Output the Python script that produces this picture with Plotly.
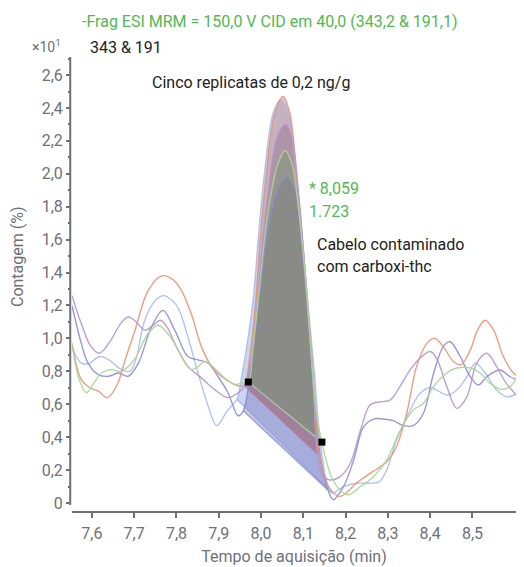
import plotly.graph_objects as go

# ---------------- data ----------------
t_orange = [7.553, 7.575, 7.595, 7.615, 7.637, 7.660, 7.680, 7.702, 7.733, 7.765, 7.790, 7.810, 7.835,
            7.859, 7.883, 7.906, 7.930, 7.950, 7.962, 7.972, 7.985, 7.997, 8.011, 8.033, 8.052, 8.068,
            8.085, 8.099, 8.111, 8.122, 8.130, 8.138, 8.150, 8.165, 8.187, 8.205, 8.225, 8.258, 8.297,
            8.320, 8.345, 8.368, 8.392, 8.411, 8.431, 8.455, 8.473, 8.495, 8.512, 8.530, 8.550, 8.573,
            8.597, 8.608]
v_orange = [0.97, 0.75, 0.70, 0.68, 0.64, 0.72, 0.88, 1.05, 1.29, 1.38, 1.36, 1.30, 1.15,
            0.95, 0.83, 0.77, 0.73, 0.71, 0.72, 0.86, 1.15, 1.56, 1.96, 2.37, 2.47, 2.37,
            1.96, 1.56, 1.15, 0.80, 0.50, 0.30, 0.16, 0.08, 0.04, 0.07, 0.12, 0.18, 0.25,
            0.34, 0.55, 0.83, 0.97, 1.00, 0.95, 0.86, 0.84, 0.93, 1.05, 1.11, 1.05, 0.89,
            0.79, 0.77]

t_blue = [7.553, 7.575, 7.595, 7.618, 7.640, 7.670, 7.690, 7.705, 7.725, 7.750, 7.770, 7.790, 7.805,
          7.827, 7.851, 7.875, 7.895, 7.920, 7.943, 7.955, 7.968, 7.982, 7.994, 8.008, 8.030, 8.047,
          8.064, 8.083, 8.098, 8.112, 8.126, 8.135, 8.145, 8.158, 8.168, 8.195, 8.227, 8.258, 8.280,
          8.297, 8.320, 8.353, 8.376, 8.400, 8.420, 8.440, 8.463, 8.487, 8.507, 8.530, 8.557, 8.581,
          8.608]
v_blue = [0.95, 0.85, 0.85, 0.89, 0.87, 0.81, 0.80, 0.88, 1.11, 1.23, 1.26, 1.23, 1.18,
          1.01, 0.79, 0.59, 0.47, 0.56, 0.63, 0.78, 0.98, 1.25, 1.62, 2.00, 2.38, 2.45,
          2.38, 2.00, 1.60, 1.18, 0.80, 0.50, 0.28, 0.10, 0.06, 0.10, 0.12, 0.12, 0.13,
          0.20, 0.38, 0.565, 0.666, 0.70, 0.68, 0.655, 0.686, 0.767, 0.85, 0.79, 0.686, 0.646,
          0.666]

t_mauve = [7.553, 7.575, 7.598, 7.618, 7.645, 7.668, 7.686, 7.705, 7.725, 7.745, 7.762, 7.780, 7.796,
           7.827, 7.859, 7.890, 7.922, 7.946, 7.962, 7.974, 7.988, 8.000, 8.015, 8.038, 8.058, 8.073,
           8.090, 8.103, 8.115, 8.124, 8.133, 8.145, 8.164, 8.187, 8.211, 8.235, 8.258, 8.282, 8.305,
           8.329, 8.353, 8.376, 8.400, 8.415, 8.439, 8.463, 8.487, 8.510, 8.534, 8.557, 8.580, 8.608]
v_mauve = [1.26, 1.09, 0.95, 0.91, 0.99, 1.09, 1.13, 1.10, 1.05, 1.08, 1.11, 1.06, 0.97,
           0.83, 0.76, 0.69, 0.64, 0.67, 0.71, 0.84, 1.12, 1.48, 1.85, 2.22, 2.30, 2.22,
           1.85, 1.45, 1.05, 0.70, 0.30, 0.17, 0.14, 0.16, 0.24, 0.44, 0.595, 0.615, 0.625,
           0.71, 0.81, 0.88, 0.92, 0.88, 0.71, 0.575, 0.646, 0.85, 0.91, 0.83, 0.727, 0.646]

t_violet = [7.553, 7.575, 7.591, 7.615, 7.640, 7.662, 7.686, 7.710, 7.741, 7.768, 7.796, 7.827, 7.851,
            7.875, 7.898, 7.922, 7.946, 7.958, 7.970, 7.984, 7.998, 8.014, 8.040, 8.062, 8.080, 8.095,
            8.108, 8.120, 8.130, 8.142, 8.158, 8.171, 8.195, 8.219, 8.242, 8.266, 8.289, 8.313, 8.337,
            8.360, 8.384, 8.408, 8.431, 8.447, 8.471, 8.495, 8.514, 8.534, 8.565, 8.589, 8.608]
v_violet = [1.20, 0.97, 0.85, 0.78, 0.77, 0.79, 0.77, 0.85, 1.07, 1.17, 1.05, 0.89, 0.87,
            0.85, 0.77, 0.67, 0.53, 0.56, 0.70, 0.98, 1.30, 1.62, 1.91, 1.98, 1.90, 1.60,
            1.25, 0.85, 0.50, 0.25, 0.08, 0.02, 0.10, 0.26, 0.46, 0.51, 0.51, 0.50, 0.47,
            0.47, 0.545, 0.787, 0.95, 0.98, 0.89, 0.767, 0.717, 0.767, 0.808, 0.767, 0.747]

t_green = [7.553, 7.570, 7.587, 7.605, 7.623, 7.645, 7.670, 7.700, 7.733, 7.757, 7.788, 7.812, 7.835,
           7.852, 7.867, 7.890, 7.914, 7.938, 7.955, 7.970, 7.980, 7.990, 8.002, 8.016, 8.040, 8.057,
           8.073, 8.090, 8.104, 8.116, 8.126, 8.135, 8.144, 8.155, 8.168, 8.187, 8.207, 8.235, 8.266,
           8.297, 8.329, 8.360, 8.384, 8.408, 8.439, 8.463, 8.495, 8.518, 8.542, 8.569, 8.589, 8.608]
v_green = [0.97, 0.75, 0.67, 0.73, 0.79, 0.81, 0.80, 0.87, 1.03, 1.08, 1.00, 0.89, 0.81,
           0.83, 0.86, 0.82, 0.76, 0.72, 0.73, 0.735, 0.92, 1.15, 1.45, 1.76, 2.06, 2.14,
           2.06, 1.76, 1.40, 1.00, 0.66, 0.48, 0.37, 0.25, 0.15, 0.08, 0.05, 0.10, 0.16,
           0.26, 0.44, 0.565, 0.605, 0.707, 0.79, 0.82, 0.82, 0.79, 0.727, 0.69, 0.707, 0.78]

series_names = ["orange", "blue", "mauve", "violet", "green"]
series_t = [t_orange, t_blue, t_mauve, t_violet, t_green]
series_v = [v_orange, v_blue, v_mauve, v_violet, v_green]
integ_start = [7.962, 7.943, 7.962, 7.958, 7.970]
integ_end = [8.138, 8.168, 8.133, 8.158, 8.144]

y_tickvals = [0, 0.2, 0.4, 0.6, 0.8, 1.0, 1.2, 1.4, 1.6, 1.8, 2.0, 2.2, 2.4, 2.6]
y_ticktext = ["0", "0,2", "0,4", "0,6", "0,8", "1,0", "1,2", "1,4", "1,6", "1,8", "2,0", "2,2", "2,4", "2,6"]
x_tickvals = [7.6, 7.7, 7.8, 7.9, 8.0, 8.1, 8.2, 8.3, 8.4, 8.5]
x_ticktext = ["7,6", "7,7", "7,8", "7,9", "8,0", "8,1", "8,2", "8,3", "8,4", "8,5"]

# ---------------- styles ----------------
line_colors = ["rgba(232,146,120,0.9)", "rgba(168,190,236,0.9)", "rgba(182,150,202,0.9)",
               "rgba(140,140,214,0.9)", "rgba(168,214,150,0.9)"]
fill_colors = ["rgba(180,105,90,0.33)", "rgba(100,128,205,0.33)", "rgba(135,85,120,0.33)",
               "rgba(88,92,178,0.33)", "rgba(98,158,88,0.33)"]
base_colors = ["rgba(200,120,110,0.6)", "rgba(140,160,220,0.6)", "rgba(170,110,150,0.6)",
               "rgba(120,120,200,0.6)", "rgba(175,195,165,0.9)"]
GRAY = "#6e7079"
FONT = "Roboto, 'Noto Sans', sans-serif"

L, R, T, B = 72, 8, 57, 56
W, H = 524, 567
PW, PH = W - L - R, H - T - B

fig = go.Figure()

# filled integration regions
draw_order = [1, 3, 0, 2, 4]
for i in draw_order:
    t, v = series_t[i], series_v[i]
    s, e = integ_start[i], integ_end[i]
    xs = [tt for tt, vv in zip(t, v) if s <= tt <= e]
    ys = [vv for tt, vv in zip(t, v) if s <= tt <= e]
    fig.add_trace(go.Scatter(x=xs, y=ys, mode="lines", fill="toself", fillcolor=fill_colors[i],
                             line=dict(width=0, shape="spline"), hoverinfo="skip", showlegend=False))

# baselines
for i in draw_order:
    t, v = series_t[i], series_v[i]
    s, e = integ_start[i], integ_end[i]
    fig.add_trace(go.Scatter(x=[s, e], y=[v[t.index(s)], v[t.index(e)]], mode="lines",
                             line=dict(width=1.5, color=base_colors[i]), hoverinfo="skip",
                             showlegend=False))

# chromatogram lines
for i in draw_order:
    fig.add_trace(go.Scatter(x=series_t[i], y=series_v[i], mode="lines", name=series_names[i],
                             line=dict(width=1.4, color=line_colors[i], shape="spline"),
                             showlegend=False))

# integration markers of the highlighted trace
gi = 4
fig.add_trace(go.Scatter(
    x=[integ_start[gi], integ_end[gi]],
    y=[series_v[gi][series_t[gi].index(integ_start[gi])], series_v[gi][series_t[gi].index(integ_end[gi])]],
    mode="markers", marker=dict(symbol="square", size=7, color="black"), showlegend=False))

fig.update_layout(
    width=W, height=H,
    margin=dict(l=L, r=R, t=T, b=B, autoexpand=False),
    paper_bgcolor="white", plot_bgcolor="white",
    font=dict(family=FONT, size=16, color=GRAY),
    xaxis=dict(range=[7.553, 8.603], tickvals=x_tickvals, ticktext=x_ticktext, automargin=False,
               showline=True, linecolor=GRAY, linewidth=2, ticks="outside", ticklen=5,
               tickwidth=1.5, tickcolor=GRAY, showgrid=False, zeroline=False,
               ticklabelstandoff=2,
               tickfont=dict(size=16, color=GRAY),
               title=dict(text="Tempo de aquisição (min)", font=dict(size=16, color=GRAY), standoff=9)),
    yaxis=dict(range=[-0.0486, 2.7096], tickvals=y_tickvals, ticktext=y_ticktext, automargin=False,
               showline=False, ticks="outside", ticklen=5, tickwidth=1.5, tickcolor=GRAY,
               minor=dict(ticks="outside", ticklen=3, tickwidth=1.5, tickcolor=GRAY, dtick=0.1,
                          tick0=0, showgrid=False),
               showgrid=False, zeroline=False, tickfont=dict(size=16, color=GRAY)),
)

# y axis line (stops just below zero as in reference)
fig.add_shape(type="line", xref="paper", yref="y", x0=-0.004, x1=-0.004, y0=-0.012, y1=2.7096,
              line=dict(color=GRAY, width=2))

GREEN = "#52b852"
DARK = "#222222"
ann = [
    dict(x=80, y=22, text="-Frag ESI MRM = 150,0 V CID em 40,0 (343,2 & 191,1)", color=GREEN, size=16, xanchor="left", angle=0),
    dict(x=63, y=46, text="×10<sup>1</sup>", color=GRAY, size=14, xanchor="right", angle=0),
    dict(x=88, y=48, text="343 & 191", color=DARK, size=16, xanchor="left", angle=0),
    dict(x=150, y=82, text="Cinco replicatas de 0,2 ng/g", color=DARK, size=16, xanchor="left", angle=0),
    dict(x=307, y=188, text="* 8,059", color=GREEN, size=16, xanchor="left", angle=0),
    dict(x=307, y=211, text="1.723", color=GREEN, size=16, xanchor="left", angle=0),
    dict(x=315, y=244, text="Cabelo contaminado", color=DARK, size=16, xanchor="left", angle=0),
    dict(x=315, y=266, text="com carboxi-thc", color=DARK, size=16, xanchor="left", angle=0),
    dict(x=17, y=257, text="Contagem (%)", color=GRAY, size=16, xanchor="center", angle=-90),
]
for a in ann:
    fig.add_annotation(x=(a["x"] - L) / PW, y=(H - B - a["y"]) / PH, xref="paper", yref="paper",
                       text=a["text"], showarrow=False, xanchor=a["xanchor"], yanchor="middle",
                       textangle=a["angle"],
                       font=dict(family=FONT, size=a["size"], color=a["color"]))

fig.write_html("out.html")
